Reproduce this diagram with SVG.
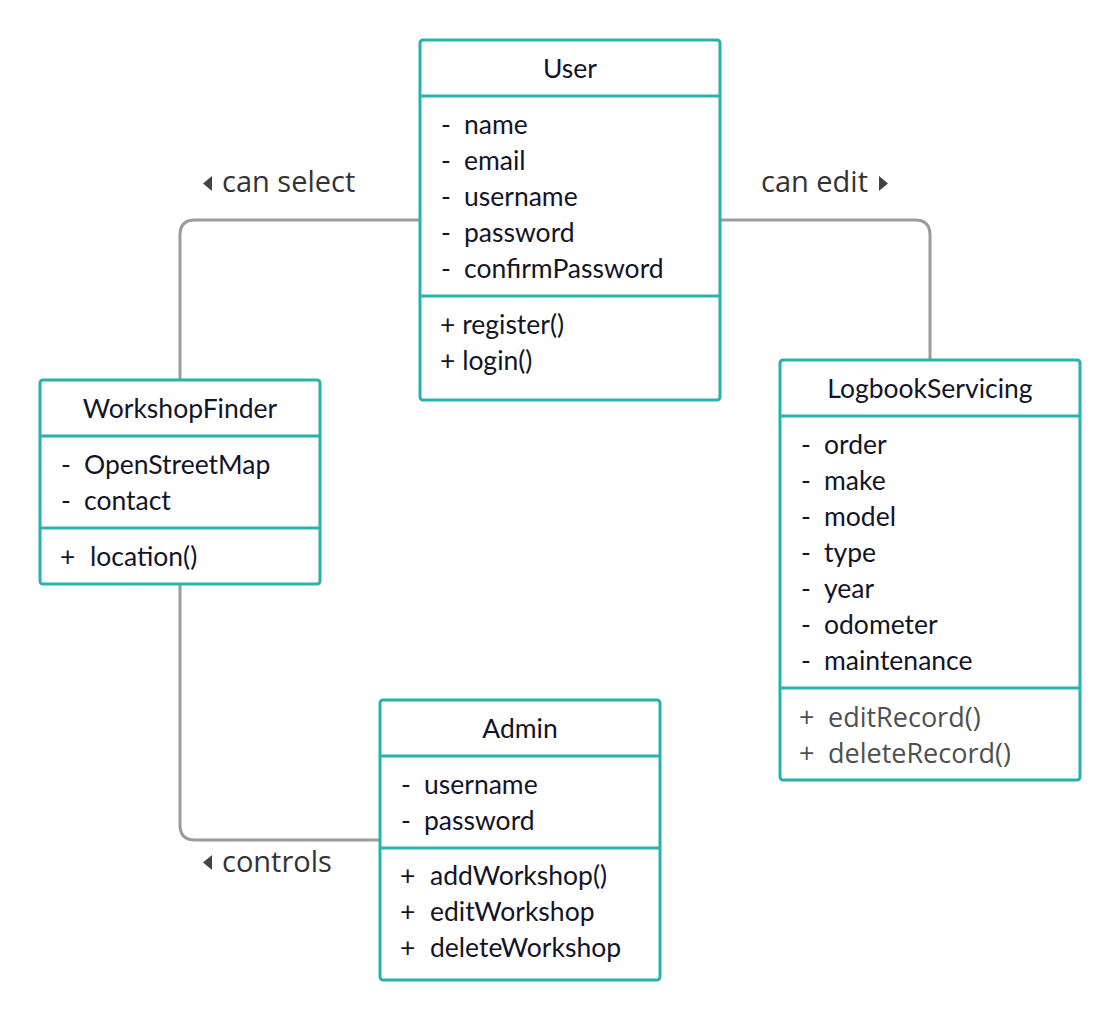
<svg xmlns="http://www.w3.org/2000/svg" width="1120" height="1020" viewBox="0 0 1120 1020">
<style>
.box{fill:#fff;stroke:#27b2ad;stroke-width:3}
.div{stroke:#27b2ad;stroke-width:3}
.t{font-family:Lato,"Liberation Sans",sans-serif;font-size:26.5px;fill:#141428}
.ttl{text-anchor:middle}
.g{font-family:"Open Sans","Liberation Sans",sans-serif;font-size:27px;fill:#4f4f4f}
.conn{fill:none;stroke:#9b9b9b;stroke-width:3}
.lbl{font-family:"Open Sans","Liberation Sans",sans-serif;font-size:29px;fill:#333}
.tri{fill:#444}
</style>
<rect width="1120" height="1020" fill="#fff"/>
<g id="connectors">
<path class="conn" d="M420 220 H195 Q180 220 180 235 V380"/>
<path class="conn" d="M720 220 H915 Q930 220 930 235 V360"/>
<path class="conn" d="M180 584 V825 Q180 840 195 840 H380"/>
<g id="label-can-select"><polygon class="tri" points="212,176 212,191 203,183.5"/><text class="lbl" x="222" y="192">can select</text></g>
<g id="label-can-edit"><text class="lbl" x="761" y="192">can edit</text><polygon class="tri" points="879,176 879,191 888,183.5"/></g>
<g id="label-controls"><polygon class="tri" points="212,855 212,870 203,862.5"/><text class="lbl" x="222" y="872">controls</text></g>
</g>
<g id="User">
<rect class="box" x="420" y="40" width="300" height="360" rx="3"/>
<line class="div" x1="420" y1="96" x2="720" y2="96"/>
<line class="div" x1="420" y1="296" x2="720" y2="296"/>
<text class="t ttl" x="570" y="78">User</text>
<text class="t" x="441" y="134">-</text><text class="t" x="464" y="134">name</text>
<text class="t" x="441" y="170">-</text><text class="t" x="464" y="170">email</text>
<text class="t" x="441" y="206">-</text><text class="t" x="464" y="206">username</text>
<text class="t" x="441" y="242">-</text><text class="t" x="464" y="242">password</text>
<text class="t" x="441" y="278">-</text><text class="t" x="464" y="278">confirmPassword</text>
<text class="t" x="440" y="334">+ register()</text>
<text class="t" x="440" y="370">+ login()</text>
</g>
<g id="WorkshopFinder">
<rect class="box" x="40" y="380" width="280" height="204" rx="3"/>
<line class="div" x1="40" y1="436" x2="320" y2="436"/>
<line class="div" x1="40" y1="528" x2="320" y2="528"/>
<text class="t ttl" x="180" y="418">WorkshopFinder</text>
<text class="t" x="61" y="474">-</text><text class="t" x="84" y="474">OpenStreetMap</text>
<text class="t" x="61" y="510">-</text><text class="t" x="84" y="510">contact</text>
<text class="t" x="60" y="566">+</text><text class="t" x="90" y="566">location()</text>
</g>
<g id="LogbookServicing">
<rect class="box" x="780" y="360" width="300" height="420" rx="3"/>
<line class="div" x1="780" y1="416" x2="1080" y2="416"/>
<line class="div" x1="780" y1="688" x2="1080" y2="688"/>
<text class="t ttl" x="930" y="398">LogbookServicing</text>
<text class="t" x="801" y="454">-</text><text class="t" x="824" y="454">order</text>
<text class="t" x="801" y="490">-</text><text class="t" x="824" y="490">make</text>
<text class="t" x="801" y="526">-</text><text class="t" x="824" y="526">model</text>
<text class="t" x="801" y="562">-</text><text class="t" x="824" y="562">type</text>
<text class="t" x="801" y="598">-</text><text class="t" x="824" y="598">year</text>
<text class="t" x="801" y="634">-</text><text class="t" x="824" y="634">odometer</text>
<text class="t" x="801" y="670">-</text><text class="t" x="824" y="670">maintenance</text>
<text class="g" x="799" y="727">+</text><text class="g" x="828" y="727">editRecord()</text>
<text class="g" x="799" y="763">+</text><text class="g" x="828" y="763">deleteRecord()</text>
</g>
<g id="Admin">
<rect class="box" x="380" y="700" width="280" height="280" rx="3"/>
<line class="div" x1="380" y1="756" x2="660" y2="756"/>
<line class="div" x1="380" y1="848" x2="660" y2="848"/>
<text class="t ttl" x="520" y="738">Admin</text>
<text class="t" x="401" y="794">-</text><text class="t" x="424" y="794">username</text>
<text class="t" x="401" y="830">-</text><text class="t" x="424" y="830">password</text>
<text class="t" x="400" y="885">+</text><text class="t" x="430" y="885">addWorkshop()</text>
<text class="t" x="400" y="921">+</text><text class="t" x="430" y="921">editWorkshop</text>
<text class="t" x="400" y="957">+</text><text class="t" x="430" y="957">deleteWorkshop</text>
</g>
</svg>
